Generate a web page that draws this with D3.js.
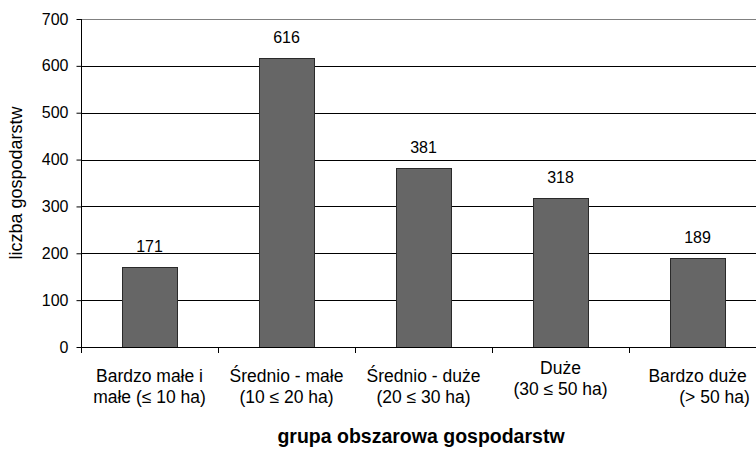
<!DOCTYPE html>
<html>
<head>
<meta charset="utf-8">
<script src="https://cdn.jsdelivr.net/npm/d3@7/dist/d3.min.js"></script>
<style>
  html, body { margin: 0; padding: 0; background: #fff; }
  svg { display: block; font-family: "Liberation Sans", Arial, sans-serif; }
</style>
</head>
<body>
<svg id="chart" width="756" height="449"></svg>
<script>
// Farm counts by area group
const categories = ["g1", "g2", "g3", "g4", "g5"];
const categoryLines = [
  ["Bardzo małe i", "małe (≤ 10 ha)"],
  ["Średnio - małe", "(10 ≤ 20 ha)"],
  ["Średnio - duże", "(20 ≤ 30 ha)"],
  ["Duże", "(30 ≤ 50 ha)"],
  ["Bardzo duże", "\u00a0\u00a0\u00a0\u00a0\u00a0\u00a0\u00a0(> 50 ha)"]
];
const values = [171, 616, 381, 318, 189];
const yTicks = [0, 100, 200, 300, 400, 500, 600, 700];
const yTitle = "liczba gospodarstw";
const xTitle = "grupa obszarowa gospodarstw";

const svg = d3.select("#chart");
const plotL = 81, plotR = 766, plotT = 19, plotB = 347;

const x = d3.scaleBand().domain(categories).range([plotL, plotR])
  .paddingInner(0.6).paddingOuter(0.3);
const xEdge = d3.scaleLinear().domain([0, categories.length]).range([plotL, plotR]);
const y = d3.scaleLinear().domain([0, 700]).range([plotB, plotT]);

// horizontal gridlines
svg.append("g").selectAll("line").data(yTicks.filter(d => d > 0)).join("line")
  .attr("x1", plotL).attr("x2", 756)
  .attr("y1", d => Math.round(y(d)) + 0.5).attr("y2", d => Math.round(y(d)) + 0.5)
  .attr("stroke", d => d === 700 ? "#808080" : "#000").attr("stroke-width", 1);

// bars
svg.append("g").selectAll("rect").data(values).join("rect")
  .attr("x", (d, i) => Math.round(x(categories[i])) + 0.5)
  .attr("y", d => Math.round(y(d)) + 0.5)
  .attr("width", Math.round(x.bandwidth()))
  .attr("height", d => Math.round(y(0)) - Math.round(y(d)))
  .attr("fill", "#666666").attr("stroke", "#2a2a2a").attr("stroke-width", 1);

// value labels
svg.append("g").selectAll("text").data(values).join("text")
  .attr("x", (d, i) => x(categories[i]) + x.bandwidth() / 2)
  .attr("y", d => y(d) - 15)
  .attr("text-anchor", "middle").attr("font-size", 16).attr("fill", "#000")
  .text(d => d);

// y axis
const yAxis = d3.axisLeft(y).tickValues(yTicks).tickSize(5).tickPadding(8);
const gy = svg.append("g").attr("transform", `translate(${plotL + 0.5},0)`).call(yAxis);
gy.select(".domain").attr("d", `M0,${plotT}V${plotB}`).attr("stroke", "#000");
gy.selectAll(".tick line").attr("stroke", "#000");
gy.selectAll(".tick text").attr("font-size", 16).attr("font-family", null).attr("fill", "#000");

// x axis line and category boundary ticks
svg.append("line").attr("x1", plotL).attr("x2", 756)
  .attr("y1", Math.round(y(0)) + 0.5).attr("y2", Math.round(y(0)) + 0.5).attr("stroke", "#000");
svg.append("g").selectAll("line").data(d3.range(categories.length + 1)).join("line")
  .attr("x1", d => Math.round(xEdge(d)) + 0.5).attr("x2", d => Math.round(xEdge(d)) + 0.5)
  .attr("y1", Math.round(y(0))).attr("y2", Math.round(y(0)) + 6).attr("stroke", "#000");

// category labels (two lines)
const catG = svg.append("g").selectAll("text").data(categoryLines).join("text")
  .attr("text-anchor", "middle").attr("font-size", 17.5).attr("fill", "#000")
  .attr("transform", (d, i) => `translate(${x(categories[i]) + x.bandwidth() / 2},${i === 3 ? 374 : 382})`);
catG.selectAll("tspan").data(d => d).join("tspan")
  .attr("x", 0).attr("y", (d, j) => j * 21).text(d => d);

// axis titles
svg.append("text").attr("x", 421).attr("y", 443)
  .attr("text-anchor", "middle").attr("font-size", 19.5).attr("font-weight", "bold")
  .text(xTitle);
svg.append("text").attr("transform", `translate(22,${(plotT + plotB) / 2}) rotate(-90)`)
  .attr("text-anchor", "middle").attr("font-size", 18).text(yTitle);
</script>
</body>
</html>
